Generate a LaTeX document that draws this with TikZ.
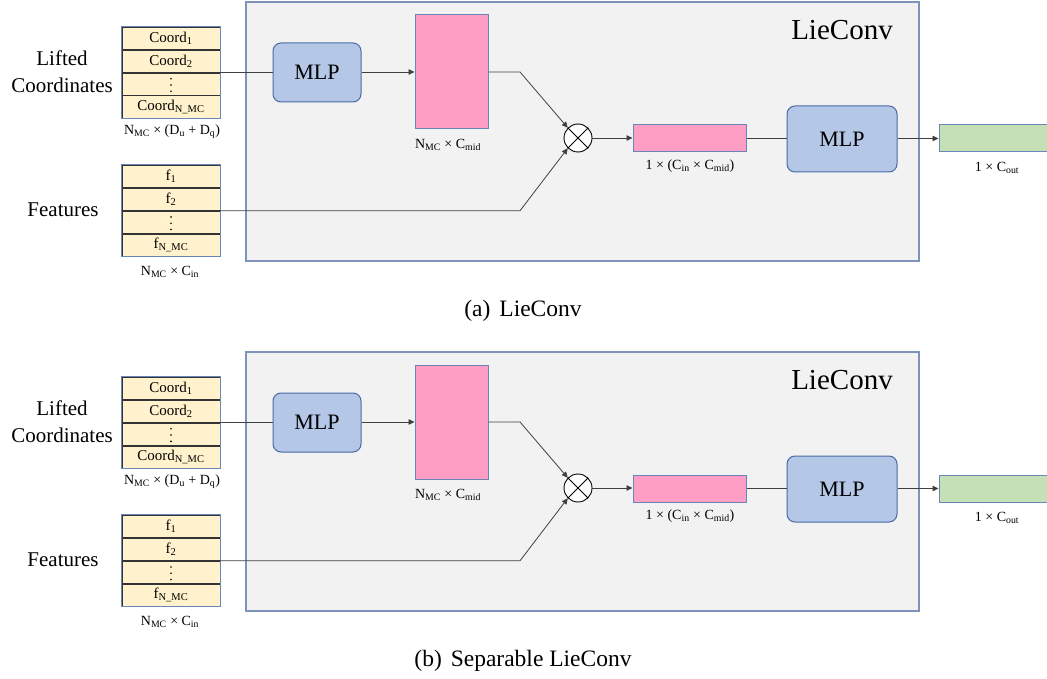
\documentclass[tikz,border=0pt]{standalone}
\usepackage{fontspec}
\setmainfont{Liberation Serif}
\usetikzlibrary{arrows.meta, positioning}

\definecolor{panelfill}{HTML}{F2F2F2}
\definecolor{panelline}{HTML}{7F93BA}
\definecolor{tabfill}{HTML}{FFF2CC}
\definecolor{tabline}{HTML}{6A86B8}
\definecolor{mlpfill}{HTML}{B4C7E7}
\definecolor{mlpline}{HTML}{4A6BA3}
\definecolor{pinkfill}{HTML}{FF9EC5}
\definecolor{greenfill}{HTML}{C5E0B4}

\begin{document}
\begin{tikzpicture}[x=1pt, y=-1pt,
    panel/.style={draw=panelline, fill=panelfill, line width=1.2pt, minimum width=673pt, minimum height=259pt},
    cell/.style={draw=black!80, fill=tabfill, minimum width=98pt, minimum height=22.5pt, inner sep=0pt, font=\fontsize{15}{17}\selectfont},
    mlp/.style={draw=mlpline, fill=mlpfill, rounded corners=8pt, line width=1pt, font=\fontsize{22}{24}\selectfont},
    tensor/.style={draw=tabline, line width=1pt, inner sep=0pt},
    dimlabel/.style={font=\fontsize{14}{16}\selectfont, inner sep=0pt},
    conn/.style={draw=black!75, line width=0.8pt},
    arr/.style={conn, -{Triangle[length=6pt,width=5.5pt]}}]
  \useasboundingbox (0,0) rectangle (1047,679);
  \foreach \off/\tag/\cap in {0/a/LieConv, 350/b/{Separable LieConv}}{
  \begin{scope}[shift={(0,\off)}]
    % LieConv block
    \node[panel] (block) at (582.5,131.5) {};
    \node[font=\fontsize{29}{32}\selectfont] (title) at (842,30) {LieConv};

    % input tables
    \node[cell] (c1) at (171,38.25) {Coord\textsubscript{1}};
    \node[cell, below=0pt of c1] (c2) {Coord\textsubscript{2}};
    \node[cell, below=0pt of c2] (c3) {};
    \node[cell, below=0pt of c3] (c4) {Coord\textsubscript{N\_MC}};
    \draw[tabline, line width=1pt] (c1.north west) rectangle (c4.south east);
    \node[dimlabel] (cdim) at (172,132) {N\textsubscript{MC} × (D\textsubscript{u} + D\textsubscript{q})};
    \node[align=center, font=\fontsize{21}{27}\selectfont] (liftlbl) at (62,71.5) {Lifted\\Coordinates};

    \node[cell] (f1) at (171,176.4) {f\textsubscript{1}};
    \node[cell, below=0pt of f1] (f2) {f\textsubscript{2}};
    \node[cell, below=0pt of f2] (f3) {};
    \node[cell, below=0pt of f3] (f4) {f\textsubscript{N\_MC}};
    \draw[tabline, line width=1pt] (f1.north west) rectangle (f4.south east);
    \node[dimlabel] (fdim) at (170,272) {N\textsubscript{MC} × C\textsubscript{in}};
    \node[font=\fontsize{21}{24}\selectfont] (featlbl) at (63,210) {Features};

    % vertical dots in the tables
    \foreach \d in {-6.3,0,6.3}{
      \fill (c3.center) ++(0,\d+1) circle (0.9pt);
      \fill (f3.center) ++(0,\d+1) circle (0.9pt);
    }

    % kernel branch
    \node[mlp, minimum width=88pt, minimum height=59pt] (mlpa) at (317,72.5) {MLP};
    \node[tensor, fill=pinkfill, minimum width=73pt, minimum height=114pt] (kern) at (451.5,72) {};
    \node[dimlabel] (kdim) at (448,145) {N\textsubscript{MC} × C\textsubscript{mid}};

    % product and output
    \node[draw, fill=white, circle, line width=0.9pt, minimum size=28pt, inner sep=0pt] (prod) at (578,138) {};
    \draw[line width=0.9pt] (prod.north west) -- (prod.south east) (prod.north east) -- (prod.south west);
    \node[tensor, fill=pinkfill, minimum width=113pt, minimum height=27pt] (flat) at (689.5,138.5) {};
    \node[dimlabel] (flatdim) at (690,166) {1 × (C\textsubscript{in} × C\textsubscript{mid})};
    \node[mlp, minimum width=110pt, minimum height=66pt] (mlpb) at (842,139) {MLP};
    \node[tensor, fill=greenfill, minimum width=112pt, minimum height=27pt] (out) at (995,138.5) {};
    \node[dimlabel] (outdim) at (997,168) {1 × C\textsubscript{out}};

    % connectors
    \coordinate (kbend) at (520,72);
    \draw[conn] (c2.south east) -- (c2.south east -| mlpa.west);
    \draw[arr] (mlpa.east |- kern.west) -- (kern.west);
    \draw[arr] (kern.east) -- (kbend) -- (prod.north west);
    \draw[arr] (f2.south east) -- (f2.south east -| kbend) -- (prod.south west);
    \draw[arr] (prod.east) -- (prod.east -| flat.west);
    \draw[conn] (flat.east) -- (flat.east -| mlpb.west);
    \draw[arr] (mlpb.east |- out.west) -- (out.west);

    \node[font=\fontsize{23.5}{26}\selectfont] (caption) at (523,311) {(\tag)\hspace{9pt}\cap};
  \end{scope}
  }
\end{tikzpicture}
\end{document}
